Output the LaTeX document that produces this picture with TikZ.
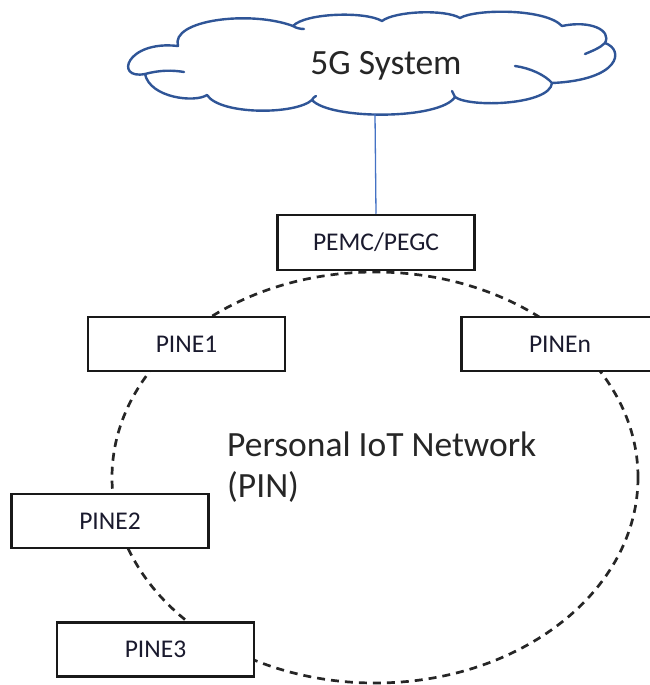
\documentclass[tikz,border=0pt]{standalone}
\usepackage{fontspec}
\setmainfont{Carlito}
\definecolor{cloudline}{HTML}{2F5597}
\definecolor{linkline}{HTML}{4472C4}
\definecolor{labeltext}{HTML}{1A1A2E}
\begin{document}
\begin{tikzpicture}[x=1pt,y=1pt,
  cloudstroke/.style={draw=cloudline,line width=2.4pt,line cap=round,line join=round},
  pinbox/.style={draw=black!90,fill=white,line width=2.5pt,minimum width=197pt,minimum height=54pt,
    inner sep=0pt,text=labeltext,font=\fontsize{25.5}{30}\selectfont},
  pinring/.style={draw=black!85,line width=2.7pt,dash pattern=on 8pt off 6pt},
  bigtext/.style={font=\fontsize{35.5}{41}\selectfont,text=black!85}]
\useasboundingbox (0,0) rectangle (650,-685);

% the 5G system cloud
\path[cloudstroke,fill=white]
  (145,-74) .. controls (114,-80) and (126,-40) .. (178,-46)
  .. controls (170,-20) and (250,-10) .. (293,-26)
  .. controls (305,-13) and (365,-11) .. (382,-21)
  .. controls (395,-11) and (445,-9) .. (460,-18)
  .. controls (475,-9) and (545,-8) .. (562,-26)
  .. controls (590,-20) and (612,-30) .. (605,-43)
  .. controls (625,-50) and (620,-80) .. (552,-83)
  .. controls (550,-105) and (470,-108) .. (455,-97)
  .. controls (440,-120) and (330,-120) .. (312,-100)
  .. controls (295,-115) and (220,-115) .. (207,-95)
  .. controls (195,-103) and (150,-98) .. (145,-74) -- cycle;
% inner folds of the cloud
\draw[cloudstroke] (145,-74) .. controls (160,-70) and (172,-70) .. (184,-72);
\draw[cloudstroke] (293,-26) .. controls (296,-28) and (300,-29) .. (304,-29);
\draw[cloudstroke] (605,-43) .. controls (600,-48) and (592,-51) .. (585,-54);
\draw[cloudstroke] (552,-83) .. controls (545,-75) and (530,-68) .. (515,-66);
\draw[cloudstroke] (455,-97) .. controls (454,-95) and (453,-93) .. (452,-91);
\draw[cloudstroke] (312,-100) .. controls (313,-98) and (314,-97) .. (316,-96);
\node[bigtext] (sys) at (386,-66) {5G System};
\coordinate (cloudbase) at (375,-114);

% the personal IoT network
\draw[pinring] (375,-477.5) ellipse [x radius=263, y radius=205.5];
\node[bigtext,anchor=north west,align=left,inner sep=0pt] (pin) at (227,-432)
  {Personal IoT Network\\(PIN)};

% network elements
\node[pinbox,minimum width=197pt,minimum height=55pt] (pemc) at (376,-242.5) {PEMC/PEGC};
\node[pinbox] (pine1) at (186.5,-344) {PINE1};
\node[pinbox] (pinen) at (560,-344) {PINEn};
\node[pinbox] (pine2) at (110,-521) {PINE2};
\node[pinbox] (pine3) at (155.5,-649.5) {PINE3};

% link to the 5G system
\draw[linkline,line width=1.3pt] (cloudbase) -- (pemc.north);
\end{tikzpicture}
\end{document}
